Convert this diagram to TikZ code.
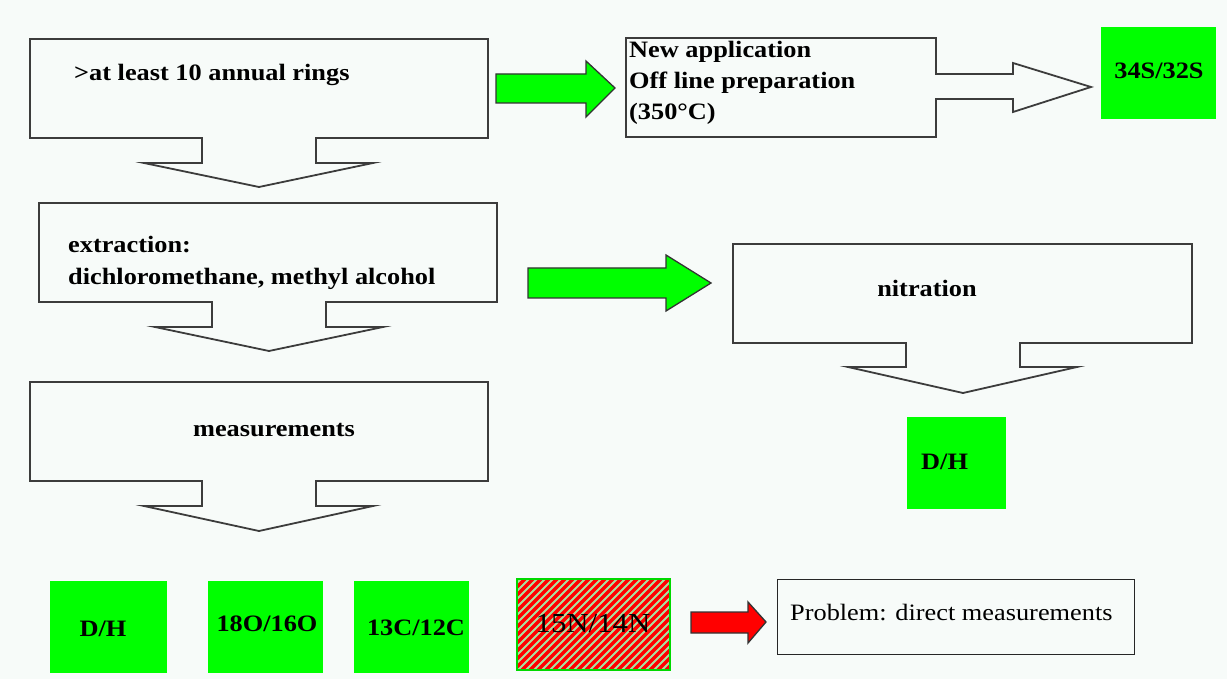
\documentclass[tikz,border=0pt]{standalone}
\usepackage{fontspec}
\setmainfont{Liberation Serif}
\newfontfamily\tr[FakeStretch=1.12]{Liberation Serif}
\definecolor{bg}{RGB}{247,251,249}
\definecolor{vgreen}{RGB}{0,255,0}
\definecolor{boxgray}{RGB}{60,60,60}
\definecolor{pale}{RGB}{170,225,160}
\tikzset{
  lbl/.style={font=\tr\bfseries\fontsize{23.5}{28}\selectfont, inner sep=0pt},
  plain/.style={font=\tr\fontsize{23.5}{28}\selectfont, inner sep=0pt},
  callbox/.style={draw=boxgray, line width=1.8pt, fill=bg, line join=miter},
  thinbox/.style={draw=black!85, line width=1.2pt, line join=miter},
  garrow/.style={draw=black!80, line width=1.3pt, fill=vgreen},
  rarrow/.style={draw=black!80, line width=1.3pt, fill=red},
  gsq/.style={fill=vgreen}
}
\begin{document}
\begin{tikzpicture}[x=1pt,y=-1pt]
\fill[bg] (0,0) rectangle (1227,679);
\useasboundingbox (0,0) rectangle (1227,679);

% callout A
\draw[callbox] (30,39) -- (488,39) -- (488,138) -- (316,138) -- (316,163) -- (373,163) -- (259,187) -- (144,163) -- (202,163) -- (202,138) -- (30,138) -- cycle;
\node[lbl, anchor=base west] (rings) at (74,81) {>at least 10 annual rings};

% green arrow 1
\draw[garrow] (496,74) -- (586,74) -- (586,61) -- (615,88) -- (586,117) -- (586,103) -- (496,103) -- cycle;

% box B with white arrow
\draw[callbox] (626,38) -- (936,38) -- (936,74) -- (1013,74) -- (1013,63) -- (1091,87) -- (1013,112) -- (1013,99) -- (936,99) -- (936,137) -- (626,137) -- cycle;
\node[lbl, anchor=base west] (newapp) at (629,58) {New application};
\node[lbl, anchor=base west] (offline) at (629,89) {Off line preparation};
\node[lbl, anchor=base west] (temp) at (629,120) {(350°C)};

% 34S/32S
\fill[gsq] (1101,27) rectangle (1216,119);
\node[lbl, anchor=base] (s34) at (1159,79) {34S/32S};

% callout C
\draw[callbox] (39,203) -- (497,203) -- (497,302) -- (326,302) -- (326,327) -- (383,327) -- (269,351) -- (155,327) -- (212,327) -- (212,302) -- (39,302) -- cycle;
\node[lbl, anchor=base west] (extr) at (68,253) {extraction:};
\node[lbl, anchor=base west] (dichl) at (68,284) {dichloromethane, methyl alcohol};

% green arrow 2
\draw[garrow] (528,268) -- (666,268) -- (666,255) -- (711,283) -- (666,311) -- (666,298) -- (528,298) -- cycle;

% callout D nitration
\draw[callbox] (733,244) -- (1192,244) -- (1192,343) -- (1020,343) -- (1020,367) -- (1077,367) -- (963,393) -- (848,367) -- (906,367) -- (906,343) -- (733,343) -- cycle;
\node[lbl, anchor=base] (nitr) at (927,297) {nitration};

% D/H right
\fill[gsq] (907,417) rectangle (1006,509);
\node[lbl, anchor=base west] (dh2) at (921,469) {D/H};

% callout E measurements
\draw[callbox] (30,382) -- (488,382) -- (488,481) -- (316,481) -- (316,506) -- (373,506) -- (259,531) -- (144,506) -- (202,506) -- (202,481) -- (30,481) -- cycle;
\node[lbl, anchor=base] (meas) at (274,436) {measurements};

% bottom squares
\fill[gsq] (50,581) rectangle (167,673);
\node[lbl, anchor=base] (dh1) at (103,636) {D/H};
\fill[gsq] (208,581) rectangle (323,673);
\node[lbl, anchor=base] (o18) at (267,631) {18O/16O};
\fill[gsq] (354,581) rectangle (469,673);
\node[lbl, anchor=base] (c13) at (416,635) {13C/12C};

% hatched 15N/14N
\begin{scope}
\clip (517,579) rectangle (670,670);
\fill[red] (517,579) rectangle (670,670);
\foreach \k in {0,...,34} {
  \draw[pale, line width=2pt] ({420+8*\k},680) -- ++(110,-110);
}
\end{scope}
\draw[vgreen!85!black, line width=1.2pt] (517,579) rectangle (670,670);
\node[plain, font=\tr\fontsize{27.5}{32}\selectfont, text=black, anchor=base] (n15) at (593,632) {15N/14N};

% red arrow
\draw[rarrow] (691,612) -- (748,612) -- (748,602) -- (766,622) -- (748,643) -- (748,633) -- (691,633) -- cycle;

% problem box
\node[thinbox, minimum width=357pt, minimum height=75pt, anchor=north west, inner sep=0pt] (prob) at (777,579) {};
\node[plain, anchor=base west] (probtxt) at (790,620) {Problem: direct measurements};
\end{tikzpicture}
\end{document}
